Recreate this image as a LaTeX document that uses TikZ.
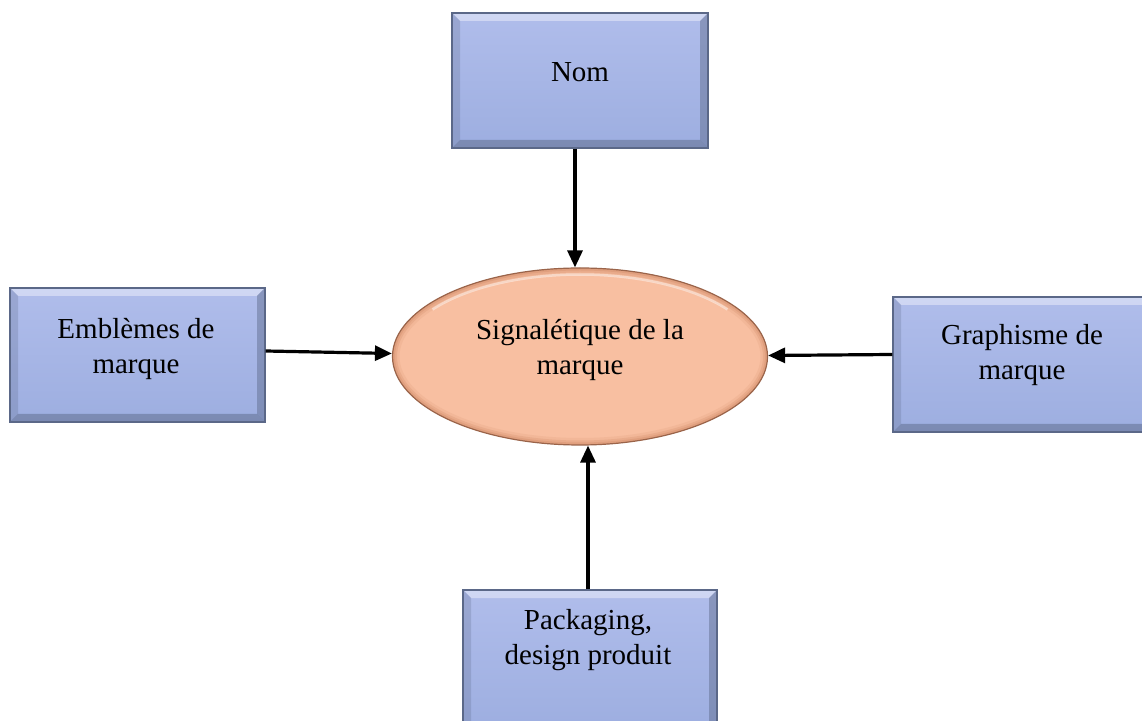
\documentclass[tikz,border=0pt]{standalone}
\usepackage{fontspec}
\setmainfont{Liberation Serif}
\usetikzlibrary{shapes.geometric,arrows.meta,calc}

\definecolor{boxtop}{HTML}{B0BDEB}
\definecolor{boxbot}{HTML}{9DAEE0}
\definecolor{boxedge}{HTML}{5B6888}
\definecolor{ovalfill}{HTML}{F8BFA1}
\definecolor{ovalrim}{HTML}{D08A66}
\definecolor{ovaledge}{HTML}{9A644A}

\tikzset{
  brandbox/.style={rectangle, draw=boxedge, line width=1.4pt,
    top color=boxtop, bottom color=boxbot, inner sep=0pt,
    path picture={
      % bevelled rim: light top, shaded sides and bottom
      \fill[white,opacity=0.40]
        (path picture bounding box.north west) -- (path picture bounding box.north east)
        -- ([shift={(-8pt,-8pt)}]path picture bounding box.north east)
        -- ([shift={(8pt,-8pt)}]path picture bounding box.north west) -- cycle;
      \fill[boxedge,opacity=0.50]
        (path picture bounding box.south west) -- (path picture bounding box.south east)
        -- ([shift={(-8pt,8pt)}]path picture bounding box.south east)
        -- ([shift={(8pt,8pt)}]path picture bounding box.south west) -- cycle;
      \fill[boxedge,opacity=0.25]
        (path picture bounding box.south west) -- (path picture bounding box.north west)
        -- ([shift={(8pt,-8pt)}]path picture bounding box.north west)
        -- ([shift={(8pt,8pt)}]path picture bounding box.south west) -- cycle;
      \fill[boxedge,opacity=0.45]
        (path picture bounding box.south east) -- (path picture bounding box.north east)
        -- ([shift={(-8pt,-8pt)}]path picture bounding box.north east)
        -- ([shift={(-8pt,8pt)}]path picture bounding box.south east) -- cycle;
    }},
  brandoval/.style={ellipse, draw=ovaledge, line width=1.2pt,
    fill=ovalfill, inner sep=0pt,
    path picture={
      % soft darker rim inside the outline
      \foreach \w/\o in {14/0.15, 9/0.25, 5/0.35}{
        \draw[ovalrim,opacity=\o,line width=\w pt]
          (path picture bounding box.center) ellipse[x radius=187.5pt,y radius=88.5pt];
      }
      % light sheen near the top
      \draw[white,opacity=0.45,line width=2.5pt]
        ([shift={(35:180pt and 82pt)}]path picture bounding box.center)
        arc[start angle=35,end angle=145,x radius=180pt,y radius=82pt];
    }},
  label text/.style={font=\fontsize{29}{35}\selectfont, align=center, inner sep=0pt},
  feed/.style={line width=3.2pt, -{Triangle[length=17pt,width=15pt]}},
}

\begin{document}
\begin{tikzpicture}[x=1pt,y=1pt]
  \useasboundingbox (0,0) rectangle (1142,720);
  \clip (0,0) rectangle (1142,720);

  % central oval
  \node[brandoval, minimum width=375pt, minimum height=177pt] (sig) at (580,363.5) {};
  \node[label text] (sigtext) at (580,370) {Signalétique de la\\marque};

  % surrounding boxes
  \node[brandbox, minimum width=256pt, minimum height=135pt] (nom) at (580,639.5) {};
  \node[label text] (nomtext) at (580,648) {Nom};

  \node[brandbox, minimum width=255pt, minimum height=134pt] (emb) at (137.5,365) {};
  \node[label text] (embtext) at (136,371) {Emblèmes de\\marque};

  \node[brandbox, minimum width=258pt, minimum height=135pt] (graf) at (1022,355.5) {};
  \node[label text] (graftext) at (1022,365) {Graphisme de\\marque};

  \node[brandbox, minimum width=254pt, minimum height=140pt] (pack) at (590,60) {};
  \node[label text] (packtext) at (588,80) {Packaging,\\design produit};

  % connectors toward the oval
  \draw[feed] ([xshift=-5pt]nom.south) -- ([xshift=-5pt]sig.north);
  \draw[feed] ([yshift=4pt]emb.east) -- ([yshift=3pt]sig.west);
  \draw[feed] ([yshift=10pt]graf.west) -- ([yshift=1pt]sig.east);
  \draw[feed] ([xshift=-2pt]pack.north) -- ([xshift=-2pt]pack.north |- sig.south);
\end{tikzpicture}
\end{document}
